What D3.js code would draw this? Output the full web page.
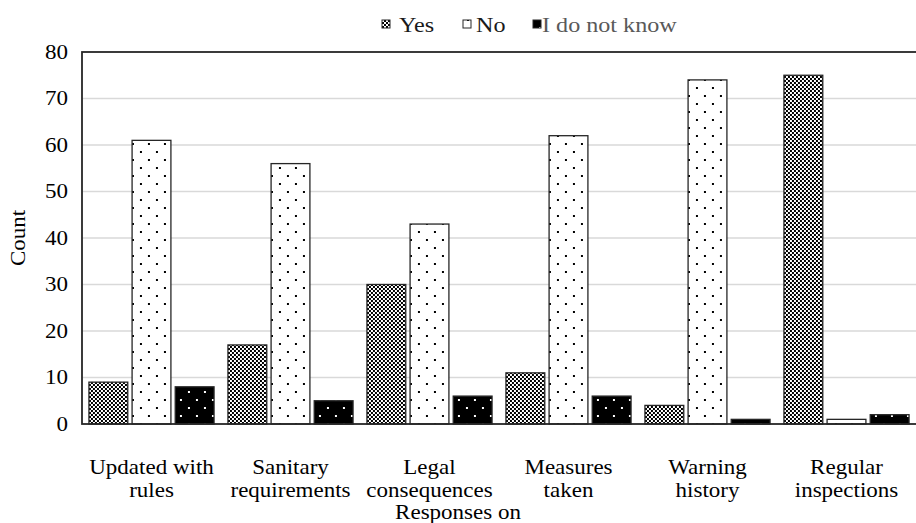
<!DOCTYPE html>
<html>
<head>
<meta charset="utf-8">
<script src="https://cdn.jsdelivr.net/npm/d3@7/dist/d3.min.js"></script>
<style>
  html, body { margin: 0; padding: 0; background: #fff; }
  svg { display: block; }
  svg text { font-family: "Liberation Serif", serif; }
</style>
</head>
<body>
<svg id="chart" width="916" height="523"></svg>
<script>
// Survey responses per topic
const categories = [
  ["Updated with", "rules"],
  ["Sanitary", "requirements"],
  ["Legal", "consequences"],
  ["Measures", "taken"],
  ["Warning", "history"],
  ["Regular", "inspections"]
];
const seriesNames = ["Yes", "No", "I do not know"];
const yesValues = [9, 17, 30, 11, 4, 75];
const noValues = [61, 56, 43, 62, 74, 1];
const dontKnowValues = [8, 5, 6, 6, 1, 2];
const yTicks = [0, 10, 20, 30, 40, 50, 60, 70, 80];

const series = [yesValues, noValues, dontKnowValues];

const FONT = "Liberation Serif, serif";
const FS = 20;        // font size
const STRETCH = 1.15; // horizontal widening of the lettering

const svg = d3.select("#chart");
const W = 916, H = 523;
const margin = { top: 52, right: 0, bottom: 99, left: 82 };
const innerW = W - margin.left - margin.right;
const innerH = H - margin.top - margin.bottom;

// widened text helper: places a text at (x, y) with an optional rotation
function label(parent, x, y, str, opts = {}) {
  const rot = opts.rotate ? ` rotate(${opts.rotate})` : "";
  return parent.append("text")
    .attr("transform", `translate(${x},${y})${rot} scale(${STRETCH},1)`)
    .attr("text-anchor", opts.anchor || "middle")
    .attr("font-size", opts.size || FS)
    .attr("fill", opts.fill || "#000")
    .style("font-family", FONT)
    .text(str);
}

// Fill patterns
const defs = svg.append("defs");

// checkerboard for "Yes"
const pYes = defs.append("pattern")
  .attr("id", "pat-yes").attr("patternUnits", "userSpaceOnUse")
  .attr("width", 4).attr("height", 4);
pYes.append("rect").attr("width", 4).attr("height", 4).attr("fill", "#fff");
pYes.append("rect").attr("x", 0).attr("y", 0).attr("width", 2).attr("height", 2).attr("fill", "#000");
pYes.append("rect").attr("x", 2).attr("y", 2).attr("width", 2).attr("height", 2).attr("fill", "#000");

// sparse dots for "No"
const pNo = defs.append("pattern")
  .attr("id", "pat-no").attr("patternUnits", "userSpaceOnUse")
  .attr("width", 16).attr("height", 16);
pNo.append("rect").attr("width", 16).attr("height", 16).attr("fill", "#fff");
pNo.append("rect").attr("x", 3).attr("y", 3).attr("width", 2).attr("height", 2).attr("fill", "#000");
pNo.append("rect").attr("x", 11).attr("y", 11).attr("width", 2).attr("height", 2).attr("fill", "#000");

// white dots on black for "I do not know"
const pDk = defs.append("pattern")
  .attr("id", "pat-dk").attr("patternUnits", "userSpaceOnUse")
  .attr("width", 16).attr("height", 16);
pDk.append("rect").attr("width", 16).attr("height", 16).attr("fill", "#000");
pDk.append("rect").attr("x", 3).attr("y", 3).attr("width", 2).attr("height", 2).attr("fill", "#fff");
pDk.append("rect").attr("x", 11).attr("y", 11).attr("width", 2).attr("height", 2).attr("fill", "#fff");

const fills = ["url(#pat-yes)", "url(#pat-no)", "url(#pat-dk)"];

const g = svg.append("g").attr("transform", `translate(${margin.left},${margin.top})`);

const x0 = d3.scaleBand().domain(d3.range(categories.length)).range([0, innerW]).paddingInner(0.1).paddingOuter(0.05);
const x1 = d3.scaleBand().domain(d3.range(series.length)).range([0, x0.bandwidth()]).paddingInner(0.1);
const y = d3.scaleLinear().domain([0, 80]).range([innerH, 0]);

// gridlines
g.append("g").selectAll("line").data(yTicks.filter(t => t > 0 && t < 80)).join("line")
  .attr("x1", 0).attr("x2", innerW)
  .attr("y1", d => y(d)).attr("y2", d => y(d))
  .attr("stroke", "#d9d9d9").attr("stroke-width", 1.3);

// bars
const groups = g.append("g").selectAll("g").data(categories).join("g")
  .attr("transform", (d, i) => `translate(${x0(i)},0)`);
groups.selectAll("rect").data((d, i) => series.map((s, k) => ({ k, v: s[i] }))).join("rect")
  .attr("x", d => x1(d.k))
  .attr("y", d => y(d.v))
  .attr("width", x1.bandwidth())
  .attr("height", d => innerH - y(d.v))
  .attr("fill", d => fills[d.k])
  .attr("stroke", "#262626").attr("stroke-width", 1.3);

// frame
g.append("rect").attr("x", 0).attr("y", 0).attr("width", innerW + 2).attr("height", innerH)
  .attr("fill", "none").attr("stroke", "#262626").attr("stroke-width", 1.8);

// y axis
const yAxis = g.append("g").call(d3.axisLeft(y).tickValues(yTicks).tickSize(0).tickPadding(14));
yAxis.attr("font-family", null);
yAxis.select(".domain").remove();
yAxis.selectAll("text")
  .attr("x", -14 / STRETCH)
  .attr("transform", `scale(${STRETCH},1)`)
  .attr("font-size", FS).attr("fill", "#000")
  .style("font-family", FONT);

// category labels (two lines each)
categories.forEach((c, i) => {
  const cx = margin.left + x0(i) + x0.bandwidth() / 2;
  c.forEach((line, j) => label(svg, cx, margin.top + innerH + 50 + j * 23, line));
});

// axis titles
label(svg, W / 2, 519, "Responses on");
label(svg, 25, margin.top + innerH / 2, "Count", { rotate: -90 });

// legend
const legendBox = [382, 463, 533];
const legendText = [399, 476, 542];
const legendFill = ["#1a1a1a", "#1a1a1a", "#595959"];
seriesNames.forEach((name, k) => {
  svg.append("rect").attr("x", legendBox[k]).attr("y", 20).attr("width", 8).attr("height", 8)
    .attr("fill", fills[k]).attr("stroke", "#262626").attr("stroke-width", 1);
  label(svg, legendText[k], 32, name, { anchor: "start", fill: legendFill[k], size: 21 });
});
</script>
</body>
</html>
